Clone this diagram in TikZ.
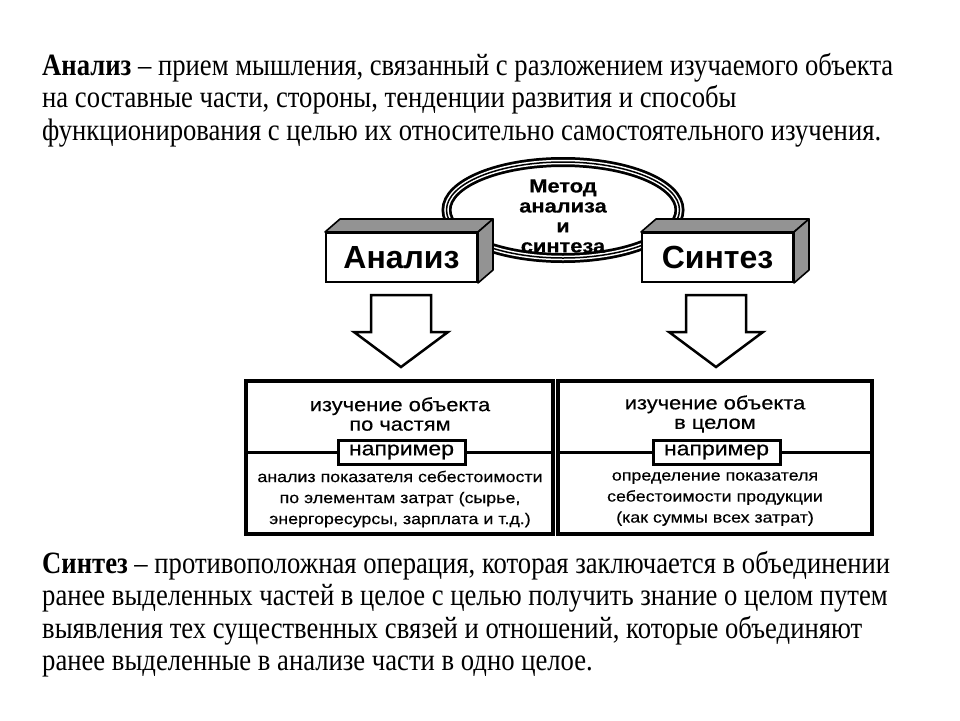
\documentclass[tikz,border=0pt]{standalone}
\usepackage{fontspec}
\setmainfont{Liberation Serif}[FakeStretch=0.86]
\newfontfamily\diagfont{Liberation Sans}
\newfontfamily\widefont{Liberation Sans}[FakeStretch=1.15, FakeBold=0.4]
\usetikzlibrary{positioning}

\begin{document}
\begin{tikzpicture}[x = 1pt, y = -1pt,
	solidbox/.style = {draw, fill = white, line width = 2pt, inner sep = 0,
		minimum width = 151, minimum height = 49,
		font = \diagfont\bfseries\fontsize{32}{32}\selectfont},
	face/.style = {draw, fill = gray!85, line width = 1.6pt, line join = round},
	hollow/.style = {draw, fill = white, line width = 2.5pt, line join = miter},
	cell/.style = {draw, line width = 3.5pt, inner sep = 0},
	headtext/.style = {align = center, inner sep = 0,
		font = \widefont\fontsize{19}{19.5}\selectfont},
	bodytext/.style = {align = center, inner sep = 0,
		font = \widefont\fontsize{15.5}{21}\selectfont},
	example/.style = {draw, fill = white, line width = 3pt, inner sep = 0,
		minimum width = 127, minimum height = 24,
		font = \widefont\fontsize{20}{20}\selectfont},
	para/.style = {anchor = north west, align = left, inner sep = 0,
		font = \fontsize{31}{32.5}\selectfont}]

	\useasboundingbox (0, 0) rectangle (960, 720);

	% Definitions

	\def\DX{15}		% Depth of solid box, right
	\def\DY{-13}	% Depth of solid box, up

	% Definition paragraphs

	\node [para] (analysisdef) at (42, 53) {\textbf{Анализ} – прием мышления, связанный с разложением изучаемого объекта\\
		на составные части, стороны, тенденции развития и способы\\
		функционирования с целью их относительно самостоятельного изучения.};
	\node [para] (synthesisdef) at (42, 551) {\textbf{Синтез} – противоположная операция, которая заключается в объединении\\
		ранее выделенных частей в целое с целью получить знание о целом путем\\
		выявления тех существенных связей и отношений, которые объединяют\\
		ранее выделенные в анализе части в одно целое.};

	% Ring of the method, behind the boxes

	\coordinate (ring) at (563, 210);
	\foreach \w/\c in {10/black, 4.5/white, 1.5/black}
		\draw [line width = \w pt, \c] (ring) ellipse [x radius = 116.5, y radius = 48];
	\node [align = center, inner sep = 0,
		font = \widefont\bfseries\fontsize{19}{20}\selectfont] (method) at (563, 216) {Метод\\анализа\\и\\синтеза};

	% Solid boxes

	\node [solidbox] (analysis) at (401.5, 257.5) {Анализ};
	\node [solidbox] (synthesis) at (717.5, 257.5) {Синтез};

	\foreach \b in {analysis, synthesis} {
		\path [face] (\b.north west) -- ++(\DX, \DY) -- ([shift = {(\DX, \DY)}] \b.north east) -- (\b.north east) -- cycle;
		\path [face] (\b.north east) -- ++(\DX, \DY) -- ([shift = {(\DX, \DY)}] \b.south east) -- (\b.south east) -- cycle;
	}

	% Hollow arrows

	\foreach \x in {401, 716}
		\path [hollow] ({\x - 30}, 295) -- ({\x + 30}, 295) -- ({\x + 30}, 332) -- ({\x + 47}, 332)
			-- (\x, 367) -- ({\x - 47}, 332) -- ({\x - 30}, 332) -- cycle;

	% Table

	\node [cell, minimum width = 307, minimum height = 153] (partcell) at (399.5, 457.5) {};
	\node [cell, minimum width = 314, minimum height = 153] (wholecell) at (715, 457.5) {};
	\draw [line width = 3pt] (246, 452) -- (553, 452);
	\draw [line width = 3pt] (558, 452) -- (872, 452);

	\node [headtext] (parthead) at (400, 414) {изучение объекта\\по частям};
	\node [headtext] (wholehead) at (715, 414) {изучение объекта\\в целом};

	\node [example] (partex) at (401.5, 452) {например};
	\node [example] (wholeex) at (716.5, 452) {например};

	\node [bodytext] (partbody) at (400, 499) {анализ показателя себестоимости\\
		по элементам затрат (сырье,\\энергоресурсы, зарплата и т.д.)};
	\node [bodytext] (wholebody) at (715, 499) {определение показателя\\
		себестоимости продукции\\(как суммы всех затрат)};

\end{tikzpicture}
\end{document}
